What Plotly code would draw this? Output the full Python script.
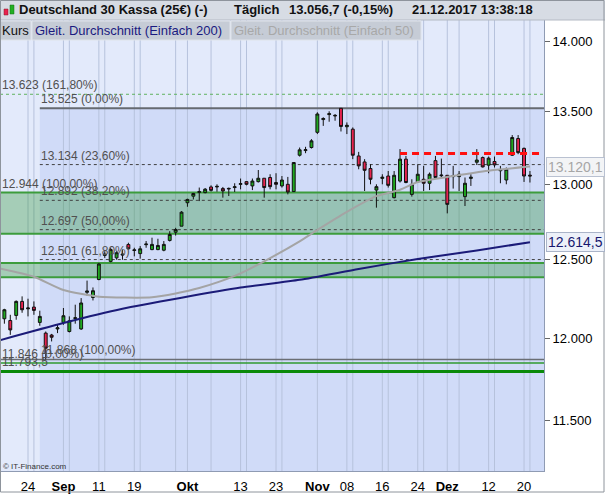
import math
import plotly.graph_objects as go

# ---------------- data ----------------
aug_days = [18, 21, 22, 23, 24, 25, 28, 29, 30, 31]
sep_days = [1, 4, 5, 6, 7, 8, 11, 12, 13, 14, 15, 18, 19, 20, 21, 22, 25, 26, 27, 28, 29]
oct_days = [2, 3, 4, 5, 6, 9, 10, 11, 12, 13, 16, 17, 18, 19, 20, 23, 24, 25, 26, 27, 30, 31]
nov_days = [1, 2, 3, 6, 7, 8, 9, 10, 13, 14, 15, 16, 17, 20, 21, 22, 23, 24, 27, 28, 29, 30]
dec_days = [1, 4, 5, 6, 7, 8, 11, 12, 13, 14, 15, 18, 19, 20, 21]
dates = ([f"2017-08-{d:02d}" for d in aug_days] + [f"2017-09-{d:02d}" for d in sep_days] +
         [f"2017-10-{d:02d}" for d in oct_days] + [f"2017-11-{d:02d}" for d in nov_days] +
         [f"2017-12-{d:02d}" for d in dec_days])

opens = [12122, 12111, 12143, 12232, 12185, 12196, 12099, 12032, 12020, 12058,
         12099, 12042, 12124, 12058, 12290, 12257, 12372, 12528, 12489, 12512,
         12530, 12599, 12560, 12540, 12598, 12566, 12566, 12562, 12626, 12680,
         12720, 12876, 12920, 12946, 12944, 12982, 12982, 12971, 12968, 12978,
         13000, 13018, 12989, 13018, 13041, 13046, 13012, 12989, 13000, 12951,
         13198, 13230, 13251, 13356, 13445, 13480, 13470, 13524, 13395, 13378,
         13193, 13152, 13107, 12961, 13040, 13056, 12910, 13022, 13171, 12932,
         13016, 13034, 13007, 13161, 13058, 13061, 13052, 13052, 12917, 13040,
         13150, 13182, 13130, 13155, 13092, 13029, 13198, 13313, 13245, 13062]
highs = [12185, 12147, 12238, 12264, 12249, 12232, 12173, 12042, 12027, 12084,
         12190, 12137, 12211, 12253, 12365, 12321, 12479, 12555, 12578, 12555,
         12566, 12611, 12578, 12589, 12622, 12644, 12637, 12622, 12687, 12709,
         12820, 12903, 12942, 12978, 12975, 12993, 13000, 12982, 12978, 13007,
         13039, 13022, 13039, 13097, 13041, 13068, 13075, 13056, 13050, 13148,
         13251, 13256, 13309, 13496, 13461, 13503, 13484, 13525, 13425, 13390,
         13221, 13171, 13136, 13000, 13068, 13090, 13090, 13240, 13193, 13034,
         13136, 13125, 13080, 13193, 13175, 13061, 13125, 13090, 13046, 13068,
         13240, 13189, 13189, 13189, 13125, 13114, 13337, 13337, 13251, 13090]
lows = [12091, 12021, 12116, 12160, 12137, 12147, 12078, 11868, 11980, 12032,
        12084, 12036, 12091, 12052, 12268, 12238, 12367, 12512, 12483, 12500,
        12500, 12566, 12522, 12507, 12578, 12562, 12562, 12555, 12619, 12658,
        12720, 12849, 12898, 12887, 12939, 12951, 12950, 12910, 12921, 12948,
        12966, 12993, 12961, 13012, 12910, 12966, 12966, 12978, 12932, 12951,
        13189, 13212, 13244, 13344, 13401, 13430, 13437, 13362, 13344, 13171,
        13102, 12955, 13000, 12843, 13000, 12978, 12905, 13012, 13007, 12917,
        13012, 12955, 12961, 13039, 13046, 12805, 12971, 12955, 12854, 12989,
        13131, 13114, 13075, 13114, 13007, 13000, 13193, 13205, 13016, 13012]
closes = [12179, 12052, 12232, 12179, 12190, 12175, 12137, 11938, 12006, 12065,
          12141, 12109, 12128, 12222, 12298, 12300, 12472, 12536, 12566, 12545,
          12536, 12571, 12564, 12571, 12602, 12600, 12593, 12600, 12665, 12698,
          12813, 12898, 12938, 12950, 12967, 12959, 12986, 12955, 12972, 12983,
          13004, 13000, 13022, 13041, 12978, 12984, 13000, 13029, 12948, 13148,
          13235, 13236, 13297, 13484, 13452, 13486, 13474, 13397, 13405, 13198,
          13125, 13095, 13034, 12984, 13048, 12993, 13061, 13171, 13012, 13000,
          13068, 13007, 13068, 13046, 13062, 12865, 13058, 13068, 13007, 13048,
          13165, 13118, 13178, 13132, 13100, 13102, 13320, 13216, 13056, 13056.7]

prev_session = "2017-08-17"
sma200_dates = ["2017-08-17", "2017-09-01", "2017-09-15", "2017-09-29", "2017-10-13",
                "2017-10-27", "2017-11-10", "2017-11-24", "2017-12-08", "2017-12-21"]
sma200_vals = [11985, 12095, 12185, 12255, 12320, 12370, 12440, 12505, 12560, 12614.5]
sma50_dates = ["2017-08-17", "2017-08-25", "2017-09-01", "2017-09-11", "2017-09-22", "2017-09-28",
               "2017-10-04", "2017-10-12", "2017-10-19", "2017-10-27", "2017-11-01", "2017-11-08",
               "2017-11-15", "2017-11-21", "2017-11-24", "2017-12-04", "2017-12-12", "2017-12-21"]
sma50_vals = [12445, 12390, 12305, 12262, 12258, 12282, 12317, 12395, 12490, 12620, 12695, 12815,
              12920, 12963, 13015, 13056, 13092, 13120.1]

tick_dates = ["2017-08-24", "2017-09-01", "2017-09-11", "2017-09-19", "2017-10-02", "2017-10-13",
              "2017-10-23", "2017-11-01", "2017-11-08", "2017-11-16", "2017-11-24", "2017-12-01",
              "2017-12-12", "2017-12-20"]
tick_labels = ["24", "<b>Sep</b>", "11", "19", "<b>Okt</b>", "13", "23", "<b>Nov</b>", "08", "16", "24",
               "<b>Dez</b>", "12", "20"]
grid2_dates = ["2017-08-25", "2017-09-04", "2017-09-12", "2017-09-20", "2017-09-28", "2017-10-06",
               "2017-10-16", "2017-10-24", "2017-11-09", "2017-11-17", "2017-11-27", "2017-12-05",
               "2017-12-13", "2017-12-21"]

y_ticks = [11500, 12000, 12500, 13000, 13500, 14000]
y_tick_labels = ["11.500", "12.000", "12.500", "13.000", "13.500", "14.000"]

fib1_levels = [13623, 12944, 11846]
fib1_labels = ["13.623 (161,80%)", "12.944 (100,00%)", "11.846 (0,00%)"]
fib2_start = "2017-08-28"
fib2_levels = [13525, 13134, 12892, 12697, 12501, 11868]
fib2_labels = ["13.525 (0,00%)", "13.134 (23,60%)", "12.892 (38,20%)", "12.697 (50,00%)",
               "12.501 (61,80%)", "11.868 (100,00%)"]
zones = [(12944, 12670), (12479, 12386)]
support_level = 11793.5
support_label = "11.793,5"
resist_level = 13210
resist_start = "2017-11-21"

title_parts = ["Deutschland 30 Kassa (25€) (-)", "Täglich", "13.056,7 (-0,15%)", "21.12.2017 13:38:18"]
legend_parts = ["Kurs", "Gleit. Durchschnitt (Einfach 200)", "Gleit. Durchschnitt (Einfach 50)"]
sma50_last_label = "13.120,1"
sma200_last_label = "12.614,5"

# ---------------- geometry helpers ----------------
W, T, B = 544, 20, 471
H = B - T
def X(px):
    return px / W
def Y(py):
    return (B - py) / H

pos = {d: i for i, d in enumerate(dates)}
pos[prev_session] = -1
x_lo, x_hi = -0.742, 91.38
y_lo, y_hi = 11199.4, 14159.5

FONT = "Liberation Sans, Arial, sans-serif"

fig = go.Figure()
fig.add_trace(go.Scatter(x=[pos[d] for d in sma200_dates], y=sma200_vals, mode="lines",
                         line=dict(color="#1b1b78", width=2, shape="spline", smoothing=0.6),
                         hoverinfo="skip"))
fig.add_trace(go.Scatter(x=[pos[d] for d in sma50_dates], y=sma50_vals, mode="lines",
                         line=dict(color="#a4a4a4", width=2, shape="spline", smoothing=0.6),
                         hoverinfo="skip"))
fig.add_trace(go.Candlestick(x=[pos[d] for d in dates], open=opens, high=highs, low=lows, close=closes,
                             increasing=dict(fillcolor="#20a820", line=dict(color="#111111", width=1)),
                             decreasing=dict(fillcolor="#e8234f", line=dict(color="#111111", width=1)),
                             whiskerwidth=0, hoverinfo="skip"))

shapes = []
def hline(level, x0, x1, **line):
    shapes.append(dict(type="line", xref="x", yref="y", x0=x0, x1=x1, y0=level, y1=level,
                       line=line, layer="below"))

# fib shading region
shapes.append(dict(type="rect", xref="x", yref="y", x0=pos[fib2_start], x1=x_hi, y0=y_lo, y1=fib2_levels[0],
                   fillcolor="#d0dbf8", line=dict(width=0), layer="below"))
# vertical grid
for d in tick_dates + grid2_dates:
    shapes.append(dict(type="line", xref="x", yref="y", x0=pos[d], x1=pos[d], y0=y_lo, y1=y_hi,
                       line=dict(color="#b6c2dc", width=1), layer="below"))
# zones
for top, bot in zones:
    shapes.append(dict(type="rect", xref="x", yref="y", x0=x_lo, x1=x_hi, y0=bot, y1=top,
                       fillcolor="rgba(0,128,0,0.27)", line=dict(width=0), layer="below"))
    for lv in (top, bot):
        hline(lv, x_lo, x_hi, color="#3c9c3c", width=2)
# fib 1 lines
hline(fib1_levels[0], x_lo, x_hi, color="#5fb35f", width=1, dash="3px,3px")
hline(fib1_levels[2], x_lo, x_hi, color="#2f9a2f", width=1.5)
# fib 2 lines
for i, lv in enumerate(fib2_levels):
    if i == 0:
        hline(lv, pos[fib2_start], x_hi, color="#666a70", width=2)
    elif i == len(fib2_levels) - 1:
        hline(lv, x_lo, x_hi, color="#6a6e74", width=1.5)
    else:
        hline(lv, pos[fib2_start], x_hi, color="#404040", width=1, dash="3px,3px")
# support line
hline(support_level, x_lo, x_hi, color="#0a8a0a", width=3)
# resistance red dashed
shapes.append(dict(type="line", xref="x", yref="y", x0=pos[resist_start], x1=x_hi, y0=resist_level,
                   y1=resist_level, line=dict(color="#ff1010", width=3, dash="7px,5px"), layer="above"))

# header
shapes.append(dict(type="rect", xref="paper", yref="paper", x0=X(0), x1=X(605), y0=Y(T), y1=Y(0),
                   fillcolor="#d7dce4", line=dict(width=0), layer="above"))
shapes.append(dict(type="line", xref="paper", yref="paper", x0=X(0), x1=X(605), y0=Y(T), y1=Y(T),
                   line=dict(color="#b4bac4", width=1), layer="above"))
# icon
shapes.append(dict(type="rect", xref="paper", yref="paper", x0=X(4), x1=X(8), y0=Y(15), y1=Y(9),
                   fillcolor="#e8234f", line=dict(color="#8a1a2a", width=0.5), layer="above"))
shapes.append(dict(type="rect", xref="paper", yref="paper", x0=X(10), x1=X(14), y0=Y(14), y1=Y(5),
                   fillcolor="#22b022", line=dict(color="#176f17", width=0.5), layer="above"))
# legend row boxes
for a, b in [(0, 31), (32, 230), (231, 421)]:
    shapes.append(dict(type="rect", xref="paper", yref="paper", x0=X(a), x1=X(b), y0=Y(40), y1=Y(21),
                       fillcolor="#c6ccd6", line=dict(color="#dfe3ea", width=1), layer="above"))
# outer border
shapes.append(dict(type="rect", xref="paper", yref="paper", x0=X(0.5), x1=X(604), y0=Y(492), y1=Y(0.5),
                   fillcolor="rgba(0,0,0,0)", line=dict(color="#8e949c", width=1), layer="above"))

ann = []
lab_font = dict(family=FONT, size=12, color="#505050")
for lv, txt in zip(fib1_levels, fib1_labels):
    ann.append(dict(xref="paper", yref="y", x=X(1), y=math.log10(lv), text=txt, showarrow=False,
                    xanchor="left", yanchor="bottom", font=lab_font, borderpad=0, yshift=1))
for lv, txt in zip(fib2_levels, fib2_labels):
    ann.append(dict(xref="x", yref="y", x=pos[fib2_start], y=math.log10(lv), text=txt, showarrow=False,
                    xanchor="left", yanchor="bottom", font=lab_font, borderpad=0, yshift=1))
ann.append(dict(xref="paper", yref="y", x=X(1), y=math.log10(support_level), text=support_label,
                showarrow=False, xanchor="left", yanchor="bottom", font=lab_font, borderpad=0, yshift=2))
# right value boxes
ann.append(dict(xref="paper", yref="y", x=X(546), y=math.log10(sma50_vals[-1]), text=sma50_last_label,
                showarrow=False, xanchor="left", yanchor="middle",
                font=dict(family=FONT, size=14, color="#a6a6a6"), bgcolor="#f3f4f6",
                bordercolor="#b9c1d1", borderwidth=1, borderpad=1))
ann.append(dict(xref="paper", yref="y", x=X(546), y=math.log10(sma200_vals[-1]), text=sma200_last_label,
                showarrow=False, xanchor="left", yanchor="middle",
                font=dict(family=FONT, size=14, color="#17176e"), bgcolor="#edf1f9",
                bordercolor="#aab4c8", borderwidth=1, borderpad=1))
# header texts
for xp, txt in zip([18, 233, 288, 411], title_parts):
    ann.append(dict(xref="paper", yref="paper", x=X(xp), y=Y(10), text="<b>" + txt + "</b>",
                    showarrow=False, xanchor="left", yanchor="middle",
                    font=dict(family=FONT, size=13, color="#111111"), borderpad=0))
for xp, txt, col in zip([1, 34, 233], legend_parts, ["#111111", "#1a1a80", "#a8a8a8"]):
    ann.append(dict(xref="paper", yref="paper", x=X(xp), y=Y(30.5), text=txt, showarrow=False,
                    xanchor="left", yanchor="middle", font=dict(family=FONT, size=13, color=col),
                    borderpad=0))
ann.append(dict(xref="paper", yref="paper", x=X(2), y=Y(466), text="© IT-Finance.com", showarrow=False,
                xanchor="left", yanchor="middle", font=dict(family=FONT, size=8, color="#333333"),
                borderpad=0))

fig.update_layout(
    width=605, height=494, margin=dict(l=0, r=605 - W, t=T, b=494 - B),
    paper_bgcolor="white", plot_bgcolor="#e3eafb", showlegend=False,
    font=dict(family=FONT, color="black"),
    shapes=shapes, annotations=ann,
    xaxis=dict(range=[x_lo, x_hi], tickvals=[pos[d] for d in tick_dates], ticktext=tick_labels,
               showgrid=False, zeroline=False, showline=True, linecolor="#8f9bb3", mirror=True,
               ticks="", tickfont=dict(size=13, color="black"), rangeslider=dict(visible=False),
               ticklabelstandoff=3),
    yaxis=dict(type="log", side="right", range=[math.log10(y_lo), math.log10(y_hi)],
               tickvals=y_ticks, ticktext=y_tick_labels, showgrid=False, zeroline=False,
               showline=True, linecolor="#8f9bb3", mirror=True, ticks="outside", ticklen=5,
               tickcolor="#666666", tickfont=dict(size=13, color="black")),
    boxgap=0.3,
)

fig.write_html("out.html", config={"displayModeBar": False, "staticPlot": True},
               post_script="document.body.style.margin='0';document.body.style.overflow='hidden';")
